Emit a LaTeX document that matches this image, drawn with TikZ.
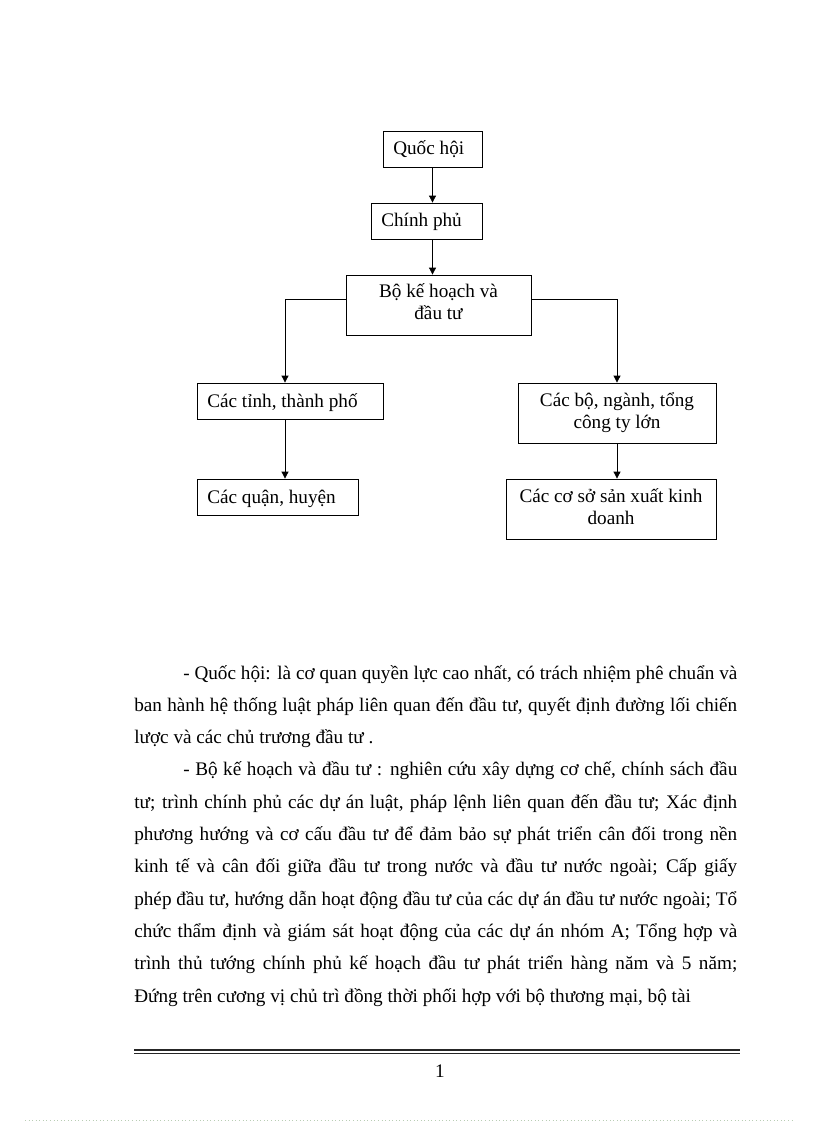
\documentclass[tikz,border=0pt]{standalone}
\usepackage{fontspec}
\setmainfont{Liberation Serif}
\usetikzlibrary{arrows.meta,fit}
\begin{document}
\begin{tikzpicture}[x=0.7292pt,y=-0.7292pt,
  box/.style={draw, line width=0.6pt, inner sep=0pt},
  lbl/.style={inner sep=0pt, font=\fontsize{14pt}{16pt}\selectfont},
  body/.style={inner sep=0pt, anchor=base west, font=\fontsize{14pt}{16pt}\selectfont},
  arr/.style={line width=0.6pt, -{Triangle[width=5pt,length=5pt]}}]
\useasboundingbox (0,0) rectangle (816,1123);
% boxes
\node[box, fit={(383,131) (482,167)}] (qh) {};
\node[box, fit={(371,203) (482,239)}] (cp) {};
\node[box, fit={(346,275) (531,335)}] (bo) {};
\node[box, fit={(197,383) (383,419)}] (tinh) {};
\node[box, fit={(197,479) (358,515)}] (quan) {};
\node[box, fit={(518,383) (716,443)}] (bonganh) {};
\node[box, fit={(506,479) (716,539)}] (coso) {};
% labels
\node[lbl, anchor=base west] (qht) at (393,155) {Quốc hội};
\node[lbl, anchor=base west] (cpt) at (381,227) {Chính phủ};
\node[lbl, anchor=base] (bot1) at (438.5,298) {Bộ kế hoạch và};
\node[lbl, anchor=base] (bot2) at (438.5,320) {đầu tư};
\node[lbl, anchor=base west] (tinht) at (207,407) {Các tỉnh, thành phố};
\node[lbl, anchor=base west] (quant) at (207,503) {Các quận, huyện};
\node[lbl, anchor=base] (bnt1) at (617,406) {Các bộ, ngành, tổng};
\node[lbl, anchor=base] (bnt2) at (617,428) {công ty lớn};
\node[lbl, anchor=base] (cst1) at (611,502) {Các cơ sở sản xuất kinh};
\node[lbl, anchor=base] (cst2) at (611,524) {doanh};
% connectors
\coordinate (lx) at (285,299);
\coordinate (rx) at (617,299);
\draw[arr] (qh.south) -- (qh.south |- cp.north);
\draw[arr] (qh.south |- cp.south) -- (qh.south |- bo.north);
\draw[arr] (bo.west |- lx) -- (lx) -- (lx |- tinh.north);
\draw[arr] (bo.east |- rx) -- (rx) -- (rx |- bonganh.north);
\draw[arr] (lx |- tinh.south) -- (lx |- quan.north);
\draw[arr] (rx |- bonganh.south) -- (rx |- coso.north);
% body text
\node[body] (l1) at (183,679) {\makebox[404pt][s]{- Quốc hội: là cơ quan quyền lực cao nhất, có trách nhiệm phê chuẩn và}};
\node[body] (l2) at (134,711.3) {\makebox[439.7pt][s]{ban hành hệ thống luật pháp liên quan đến đầu tư, quyết định đường lối chiến}};
\node[body] (l3) at (134,743.6) {lược và các chủ trương đầu tư .};
\node[body] (l4) at (183,775.9) {\makebox[404pt][s]{- Bộ kế hoạch và đầu tư : nghiên cứu xây dựng cơ chế, chính sách đầu}};
\node[body] (l5) at (134,808.2) {\makebox[439.7pt][s]{tư; trình chính phủ các dự án luật, pháp lệnh liên quan đến đầu tư; Xác định}};
\node[body] (l6) at (134,840.5) {\makebox[439.7pt][s]{phương hướng và cơ cấu đầu tư để đảm bảo sự phát triển cân đối trong nền}};
\node[body] (l7) at (134,872.8) {\makebox[439.7pt][s]{kinh tế và cân đối giữa đầu tư trong nước và đầu tư nước ngoài; Cấp giấy}};
\node[body] (l8) at (134,905.1) {\makebox[439.7pt][s]{phép đầu tư, hướng dẫn hoạt động đầu tư của các dự án đầu tư nước ngoài; Tổ}};
\node[body] (l9) at (134,937.4) {\makebox[439.7pt][s]{chức thẩm định và giám sát hoạt động của các dự án nhóm A; Tổng hợp và}};
\node[body] (l10) at (134,969.7) {\makebox[439.7pt][s]{trình thủ tướng chính phủ kế hoạch đầu tư phát triển hàng năm và 5 năm;}};
\node[body] (l11) at (134,1002) {Đứng trên cương vị chủ trì đồng thời phối hợp với bộ thương mại, bộ tài};
% footer
\draw[line width=1.1pt, black!85] (134,1050) -- (740,1050);
\draw[line width=0.6pt, black!85] (134,1053.5) -- (740,1053.5);
\node[body, anchor=base] (pg) at (440,1077) {1};
\draw[dotted, line width=0.6pt, color={rgb,255:red,185;green,205;blue,180}] (25,1120) -- (795,1120);
\end{tikzpicture}
\end{document}
